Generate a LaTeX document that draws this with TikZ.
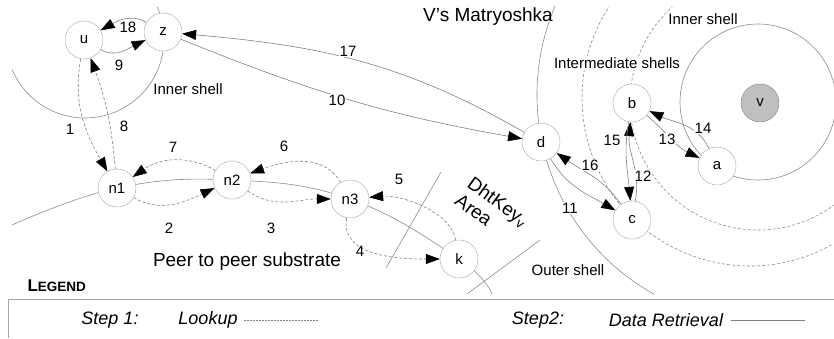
\documentclass[tikz,border=0pt]{standalone}
\usepackage{fontspec}
\setmainfont{Liberation Sans}
\usetikzlibrary{arrows.meta, backgrounds}

\begin{document}
\begin{tikzpicture}[x = 1pt, y = -1pt,
  font = \fontsize{15}{18}\selectfont,
  peer/.style = {circle, draw = gray!70, fill = white, minimum size = 38pt, inner sep = 0pt},
  shell/.style = {draw = gray!90, line width = 0.6pt},
  midshell/.style = {shell, dash pattern = on 3pt off 2pt},
  retrieval/.style = {draw = gray, line width = 0.6pt, -{Triangle[length = 14pt, width = 10pt, color = black]}},
  lookup/.style = {retrieval, dash pattern = on 3pt off 2pt},
  num/.style = {inner sep = 1pt},
  cut/.style = {num, fill = white},
  big/.style = {font = \fontsize{19}{22}\selectfont},
  legendtext/.style = {font = \fontsize{18}{21}\selectfont\itshape},
]
\useasboundingbox (0, 0) rectangle (834, 338);

% Peers of the substrate
\node[peer] (u) at (84, 40) {u};
\node[peer] (z) at (163, 32) {z};
\node[peer] (n1) at (117, 188) {n1};
\node[peer] (n2) at (232, 180) {n2};
\node[peer] (n3) at (350, 199) {n3};
\node[peer] (k) at (459, 259) {k};

% Peers of V's Matryoshka
\node[peer] (d) at (541, 142) {d};
\node[peer] (b) at (632, 103) {b};
\node[peer] (a) at (717, 166) {a};
\node[peer] (c) at (632, 220) {c};
\node[peer, fill = gray!50, draw = gray] (v) at (760, 103) {v};

% Shells, substrate and area behind the peers
\begin{scope}[on background layer]
\draw[shell] ([shift = {(24:79pt)}] 85, 39) arc[start angle = 24, end angle = -157, radius = 79pt];
\draw[shell] plot[smooth, tension = 0.7] coordinates {(12, 225) (n1.center) (n2.center) (n3.center) (k.center) (492, 294)};
\draw[shell] (441, 172) -- (386, 268);
\draw[shell] (540, 240) -- (467, 294);

\draw[shell] (758, 102) circle[radius = 78pt];
\draw[midshell] ([shift = {(-53:128pt)}] 758, 102) arc[start angle = -53, end angle = -228, radius = 128pt];
\draw[midshell] ([shift = {(-61:168pt)}] 750, 98) arc[start angle = -61, end angle = -213, radius = 168pt];
\draw[shell] ([shift = {(-119:228pt)}] 765, 95) arc[start angle = -119, end angle = -203, radius = 228pt];
\end{scope}

\node (innerz) at (188, 89) {Inner shell};
\node[big] (substrate) at (247, 262) {Peer to peer substrate};
\node[rotate = -36, align = left, font = \fontsize{19}{21}\selectfont] (area) at (492, 210) {DhtKey\textsubscript{v}\\Area};
\node[big] (matryoshka) at (488, 17) {V’s Matryoshka};
\node[cut] (intermediate) at (617, 63) {Intermediate shells};
\node (innerv) at (703, 19) {Inner shell};
\node (outer) at (568, 270) {Outer shell};

% Step 1: lookup
\draw[lookup] (u) to[out = -100, in = 120] (n1);
\draw[lookup] (n1) to[out = 95, in = -70] (u);
\draw[lookup] (n1) to[out = -30, in = -155] (n2);
\draw[lookup] (n2) to[out = 150, in = 35] (n1);
\draw[lookup] (n2) to[out = -35, in = 180] (n3);
\draw[lookup] (n3) to[out = 120, in = 20] (n2);
\draw[lookup] (n3) to[out = -100, in = 180] (k);
\draw[lookup] (k) to[out = 100, in = 5, looseness = 0.8] (n3);

% Step 2: data retrieval
\draw[retrieval] (u) to[out = -30, in = -155] (z);
\draw[retrieval] (z) to[out = -22, in = 170] (d);
\draw[retrieval] (d) to[out = -60, in = 150] (c);
\draw[retrieval] (c) to[out = 80, in = -95] (b);
\draw[retrieval] (b) to[out = -40, in = 155] (a);
\draw[retrieval] (a) to[out = 115, in = -25] (b);
\draw[retrieval] (b) to[out = -100, in = 95] (c);
\draw[retrieval] (c) to[out = 125, in = -35] (d);
\draw[retrieval] (d) to[out = 150, in = -5] (z);
\draw[retrieval] (z) to[out = 150, in = 30] (u);

% Step numbers
\node[num] (l1) at (70, 129) {1};
\node[num] (l2) at (169, 228) {2};
\node[num] (l3) at (271, 228) {3};
\node[num] (l4) at (360, 251) {4};
\node[num] (l5) at (399, 179) {5};
\node[num] (l6) at (284, 146) {6};
\node[num] (l7) at (173, 147) {7};
\node[num] (l8) at (124, 126) {8};
\node[num] (l9) at (119, 65) {9};
\node[cut] (l10) at (337, 100) {10};
\node[cut] (l11) at (570, 208) {11};
\node[cut] (l12) at (643, 176) {12};
\node[cut] (l13) at (667, 139) {13};
\node[cut] (l14) at (703, 128) {14};
\node[num] (l15) at (612, 140) {15};
\node[cut] (l16) at (590, 165) {16};
\node[cut] (l17) at (348, 51) {17};
\node[num] (l18) at (128, 27) {18};

% Legend
\node[anchor = west, font = \bfseries] (legend) at (24, 286) {\fontsize{17}{20}\selectfont L\fontsize{13.5}{16}\selectfont EGEND};
\draw[gray!70] (8, 338) -- (8, 299) -- (834, 299);
\node[legendtext] (step1) at (110, 320) {Step 1:};
\node[legendtext] (lookup) at (208, 320) {Lookup};
\draw[gray, line width = 0.4pt, dash pattern = on 2pt off 1pt] ([xshift = 3pt] lookup.east) -- ++(74, 0);
\node[legendtext] (step2) at (538, 320) {Step2:};
\node[legendtext] (retrieval) at (666, 320) {Data Retrieval};
\draw[gray, line width = 0.6pt] ([xshift = 4pt] retrieval.east) -- ++(74, 0);
\end{tikzpicture}
\end{document}
